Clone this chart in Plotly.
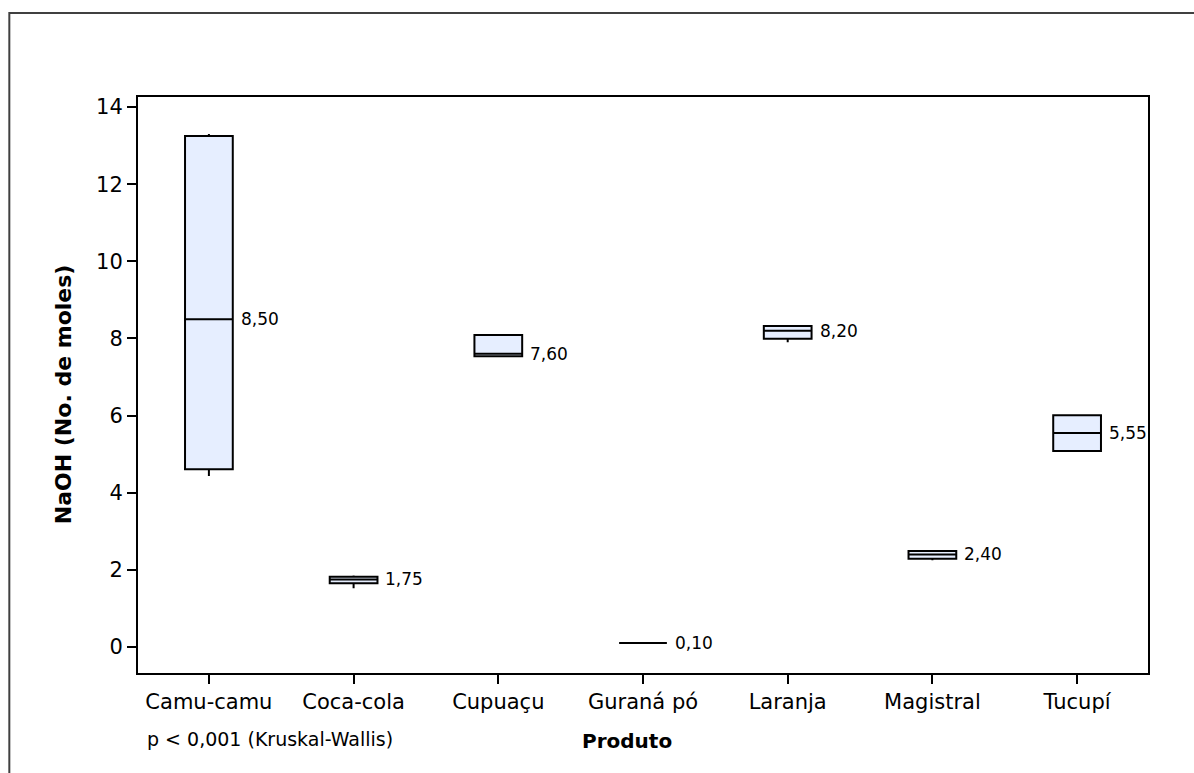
import plotly.graph_objects as go

# Products and five-number summaries of NaOH consumption (No. de moles)
produtos = ["Camu-camu", "Coca-cola", "Cupuaçu", "Guraná pó", "Laranja", "Magistral", "Tucupí"]
minimo = [4.43, 1.52, 7.54, 0.10, 7.90, 2.25, 5.08]
q1 = [4.61, 1.65, 7.54, 0.10, 7.99, 2.29, 5.08]
mediana = [8.50, 1.75, 7.60, 0.10, 8.20, 2.40, 5.55]
q3 = [13.25, 1.82, 8.09, 0.10, 8.32, 2.49, 6.01]
maximo = [13.30, 1.85, 8.09, 0.10, 8.32, 2.49, 6.01]
rotulos = ["8,50", "1,75", "7,60", "0,10", "8,20", "2,40", "5,55"]
y_ticks = [0, 2, 4, 6, 8, 10, 12, 14]

FONT = "DejaVu Sans"
BOX_W = 0.33
FILL = "#E6EEFF"

fig = go.Figure()
for i, p in enumerate(produtos):
    fig.add_trace(go.Box(
        x=[i], q1=[q1[i]], median=[mediana[i]], q3=[q3[i]],
        lowerfence=[minimo[i]], upperfence=[maximo[i]],
        width=BOX_W, whiskerwidth=0, fillcolor=FILL,
        line=dict(color="black", width=2),
        boxpoints=False, showlegend=False, hoverinfo="skip",
    ))

annotations = []
for i in range(len(produtos)):
    annotations.append(dict(
        x=i + BOX_W / 2, y=mediana[i], xref="x", yref="y",
        text=rotulos[i], showarrow=False, xanchor="left", yanchor="middle",
        xshift=6, font=dict(family=FONT, size=17, color="black"),
    ))

# axis titles and test note
annotations.append(dict(
    x=0, y=0.484, xref="paper", yref="paper", xshift=-75,
    text="<b>NaOH (No. de moles)</b>", textangle=-90, showarrow=False,
    xanchor="center", yanchor="middle",
    font=dict(family=FONT, size=22, color="black"),
))
annotations.append(dict(
    x=0.4843, y=-0.1186, xref="paper", yref="paper",
    text="<b>Produto</b>", showarrow=False, xanchor="center", yanchor="middle",
    font=dict(family=FONT, size=20, color="black"),
))
annotations.append(dict(
    x=0.0072, y=-0.115, xref="paper", yref="paper",
    text="p < 0,001 (Kruskal-Wallis)", showarrow=False,
    xanchor="left", yanchor="middle",
    font=dict(family=FONT, size=19, color="black"),
))

# outer graph frame (top and left edges)
shapes = [dict(
    type="path", xref="paper", yref="paper",
    path="M -0.1274,-0.2 L -0.1274,1.1459 L 1.06,1.1459",
    line=dict(color="#404040", width=2),
)]

fig.update_layout(
    width=1194, height=773,
    margin=dict(l=138, r=46, t=97, b=100),
    paper_bgcolor="white", plot_bgcolor="white",
    font=dict(family=FONT, size=20, color="black"),
    annotations=annotations, shapes=shapes,
    xaxis=dict(
        range=[-0.49, 6.49], tickmode="array",
        tickvals=list(range(len(produtos))), ticktext=produtos,
        ticks="outside", ticklen=9, tickwidth=2, tickcolor="black",
        showline=True, linecolor="black", linewidth=2, mirror=True,
        showgrid=False, zeroline=False,
        tickfont=dict(family=FONT, size=21, color="black"),
    ),
    yaxis=dict(
        range=[-0.675, 14.26], tickmode="array", tickvals=y_ticks,
        ticktext=[str(v) for v in y_ticks],
        ticks="outside", ticklen=9, tickwidth=2, tickcolor="black",
        showline=True, linecolor="black", linewidth=2, mirror=True,
        showgrid=False, zeroline=False,
        tickfont=dict(family=FONT, size=21, color="black"),
    ),
)

fig.write_html("out.html")
